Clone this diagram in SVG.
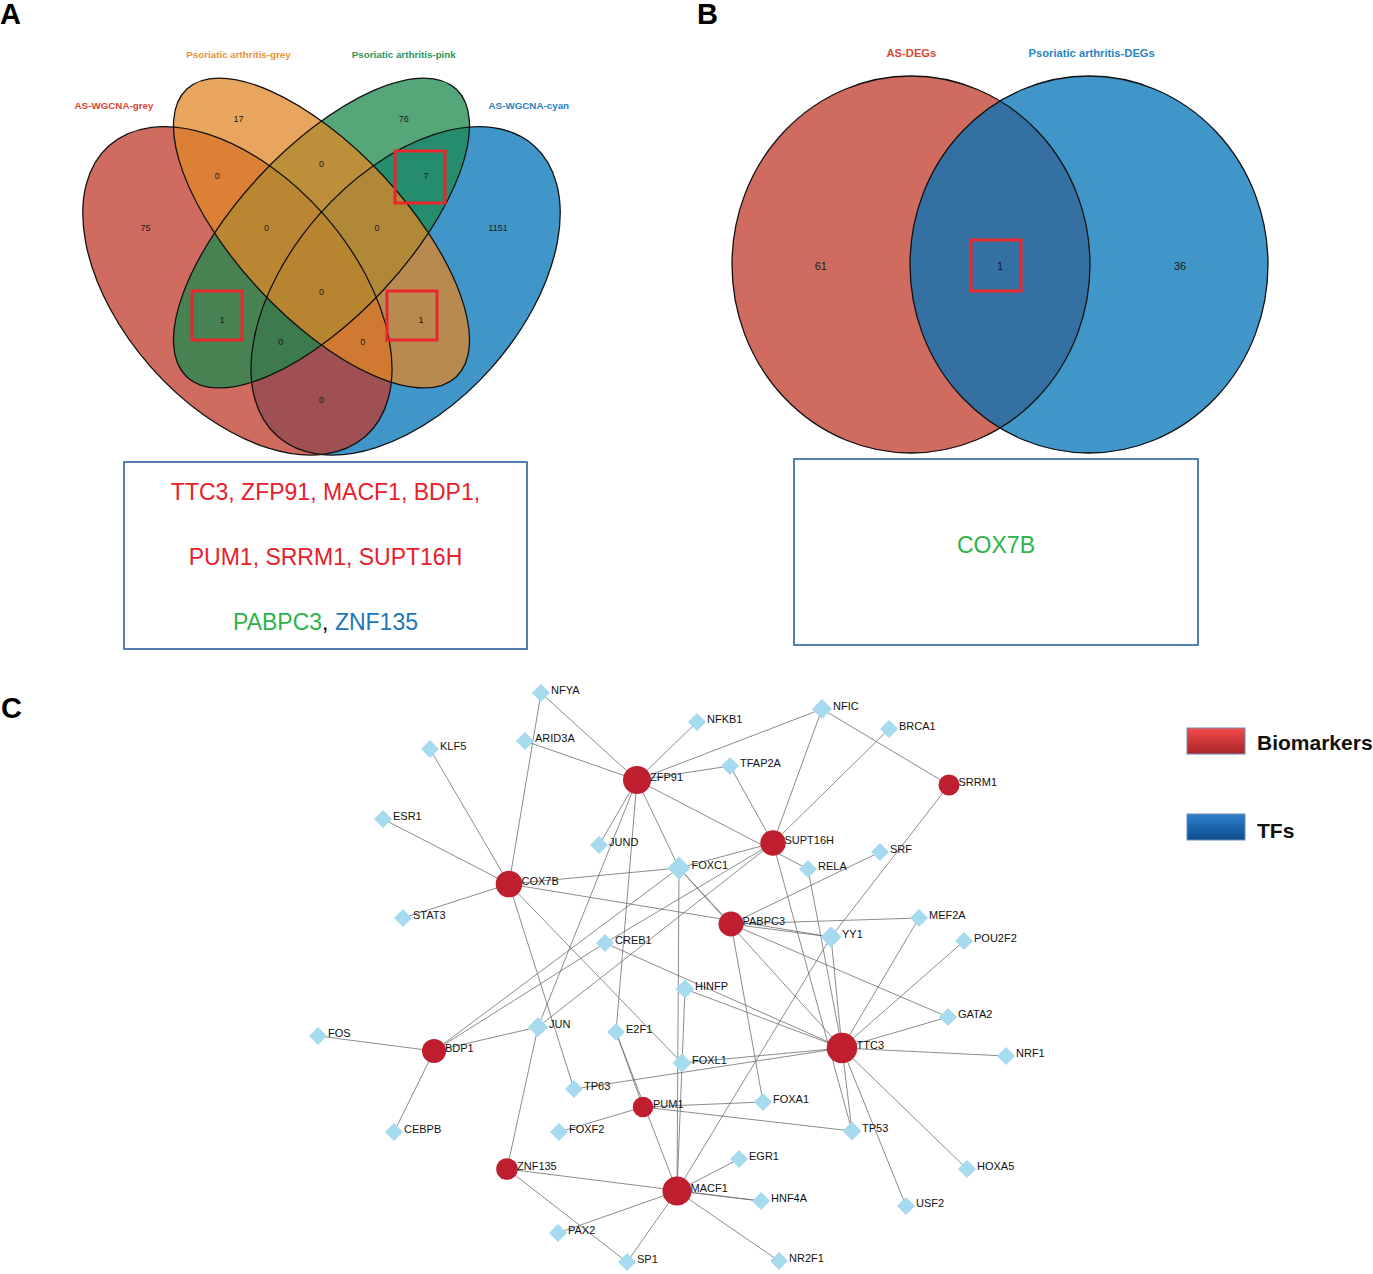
<svg xmlns="http://www.w3.org/2000/svg" width="1373" height="1274" viewBox="0 0 1373 1274">
<defs>
<style>
.pl{font-family:"Liberation Sans",Arial,sans-serif;font-weight:bold;font-size:29px;fill:#000}
.cnt{font-family:"Liberation Sans",Arial,sans-serif;font-size:9px;fill:#1a1a1a;text-anchor:middle}
.cntb{font-family:"Liberation Sans",Arial,sans-serif;font-size:11px;fill:#1a1a1a;text-anchor:middle}
.cat{font-family:"Liberation Sans",Arial,sans-serif;font-weight:bold;font-size:9.8px;text-anchor:middle}
.catb{font-family:"Liberation Sans",Arial,sans-serif;font-weight:bold;font-size:11.2px;text-anchor:middle}
.ol{fill:none;stroke:#111;stroke-width:1.3}
.hl{fill:none;stroke:#E8262B;stroke-width:3}
.box{fill:#fff;stroke:#4472A8;stroke-width:1.8}
.gene{font-family:"Liberation Sans",Arial,sans-serif;font-size:23px;text-anchor:middle}
.e{stroke:#6e6e6e;stroke-width:0.8;fill:none}
.bm{fill:#BE1E2D}
.tf{fill:#A6DBEF}
.lb{font-family:"Liberation Sans",Arial,sans-serif;font-size:11px;fill:#111}
.lg{font-family:"Liberation Sans",Arial,sans-serif;font-weight:bold;font-size:21px;fill:#111}
</style>
<linearGradient id="gr" x1="0" y1="0" x2="0" y2="1"><stop offset="0" stop-color="#F24A4A"/><stop offset="1" stop-color="#A92428"/></linearGradient>
<linearGradient id="gb" x1="0" y1="0" x2="0" y2="1"><stop offset="0" stop-color="#2F7FCC"/><stop offset="1" stop-color="#0C4C8C"/></linearGradient>
</defs>
<rect width="1373" height="1274" fill="#fff"/>

<text class="pl" x="0" y="24">A</text>
<text class="pl" x="697" y="24">B</text>
<text class="pl" x="1" y="718">C</text>

<g id="venn-A">
<g fill-opacity="0.75">
<ellipse cx="0" cy="0" rx="193.8" ry="115.3" fill="#0072B7" transform="translate(405.6,290.9) rotate(-48.6)"/>
<ellipse cx="0" cy="0" rx="193.8" ry="115.3" fill="#BF3A2A" transform="translate(237.4,290.9) rotate(48.6)"/>
<ellipse cx="0" cy="0" rx="197.1" ry="84.1" fill="#1C8A4E" transform="translate(321.5,233) rotate(-46.9)"/>
<ellipse cx="0" cy="0" rx="197.1" ry="84.1" fill="#E08727" transform="translate(321.5,233) rotate(46.9)"/>
</g>
<ellipse class="ol" cx="0" cy="0" rx="193.8" ry="115.3" transform="translate(405.6,290.9) rotate(-48.6)"/>
<ellipse class="ol" cx="0" cy="0" rx="193.8" ry="115.3" transform="translate(237.4,290.9) rotate(48.6)"/>
<ellipse class="ol" cx="0" cy="0" rx="197.1" ry="84.1" transform="translate(321.5,233) rotate(-46.9)"/>
<ellipse class="ol" cx="0" cy="0" rx="197.1" ry="84.1" transform="translate(321.5,233) rotate(46.9)"/>
<text class="cat" x="114" y="108.5" fill="#D5453A">AS-WGCNA-grey</text>
<text class="cat" x="238.5" y="58" fill="#E8943A">Psoriatic arthritis-grey</text>
<text class="cat" x="403.8" y="58" fill="#2A9560">Psoriatic arthritis-pink</text>
<text class="cat" x="528.8" y="108.5" fill="#2A80C0">AS-WGCNA-cyan</text>
<text class="cnt" x="145.4" y="231">75</text>
<text class="cnt" x="238.5" y="121.5">17</text>
<text class="cnt" x="403.8" y="121.5">76</text>
<text class="cnt" x="498" y="231">1151</text>
<text class="cnt" x="217.3" y="179">0</text>
<text class="cnt" x="321.5" y="167.3">0</text>
<text class="cnt" x="426" y="179">7</text>
<text class="cnt" x="266.5" y="231">0</text>
<text class="cnt" x="377" y="231">0</text>
<text class="cnt" x="222.3" y="323.3">1</text>
<text class="cnt" x="321.5" y="295">0</text>
<text class="cnt" x="421" y="323.3">1</text>
<text class="cnt" x="280.8" y="345">0</text>
<text class="cnt" x="362.7" y="345">0</text>
<text class="cnt" x="321.5" y="403.3">0</text>
<rect class="hl" x="395" y="151" width="50" height="52"/>
<rect class="hl" x="192" y="291" width="50" height="49"/>
<rect class="hl" x="387" y="291" width="50" height="49"/>
</g>

<g id="genes-A">
<rect class="box" x="124" y="462" width="403" height="187"/>
<text class="gene" x="325.5" y="500" fill="#E8202A">TTC3, ZFP91, MACF1, BDP1,</text>
<text class="gene" x="325.5" y="565" fill="#E8202A">PUM1, SRRM1, SUPT16H</text>
<text class="gene" x="325.5" y="630"><tspan fill="#2DB34A">PABPC3</tspan><tspan fill="#000">, </tspan><tspan fill="#1C75BC">ZNF135</tspan></text>
</g>

<g id="venn-B">
<g fill-opacity="0.75">
<ellipse cx="911" cy="264.5" rx="179" ry="188.5" fill="#BF3A2A"/>
<ellipse cx="1089" cy="264.5" rx="179" ry="188.5" fill="#0072B7"/>
</g>
<ellipse class="ol" cx="911" cy="264.5" rx="179" ry="188.5"/>
<ellipse class="ol" cx="1089" cy="264.5" rx="179" ry="188.5"/>
<text class="catb" x="911.4" y="56.7" fill="#D04A3A">AS-DEGs</text>
<text class="catb" x="1091.7" y="56.7" fill="#2A85C5">Psoriatic arthritis-DEGs</text>
<text class="cntb" x="820.8" y="269.5">61</text>
<text class="cntb" x="1000" y="269.5">1</text>
<text class="cntb" x="1180" y="269.5">36</text>
<rect class="hl" x="971" y="240" width="50" height="51"/>
</g>

<g id="genes-B">
<rect class="box" x="794" y="459" width="404" height="186"/>
<text class="gene" x="996" y="553" fill="#2DB34A">COX7B</text>
</g>

<g id="connectors">
<line class="e" x1="637" y1="780" x2="541" y2="693"/>
<line class="e" x1="637" y1="780" x2="525" y2="741"/>
<line class="e" x1="637" y1="780" x2="697" y2="722"/>
<line class="e" x1="637" y1="780" x2="822" y2="709"/>
<line class="e" x1="637" y1="780" x2="730" y2="766"/>
<line class="e" x1="637" y1="780" x2="599" y2="845"/>
<line class="e" x1="637" y1="780" x2="679" y2="868"/>
<line class="e" x1="637" y1="780" x2="808" y2="869"/>
<line class="e" x1="637" y1="780" x2="538" y2="1027"/>
<line class="e" x1="637" y1="780" x2="616" y2="1032"/>
<line class="e" x1="509" y1="884" x2="541" y2="693"/>
<line class="e" x1="509" y1="884" x2="430" y2="749"/>
<line class="e" x1="509" y1="884" x2="383" y2="819"/>
<line class="e" x1="509" y1="884" x2="403" y2="918"/>
<line class="e" x1="509" y1="884" x2="679" y2="868"/>
<line class="e" x1="509" y1="884" x2="831" y2="937"/>
<line class="e" x1="509" y1="884" x2="574" y2="1089"/>
<line class="e" x1="509" y1="884" x2="682" y2="1063"/>
<line class="e" x1="773" y1="843" x2="822" y2="709"/>
<line class="e" x1="773" y1="843" x2="730" y2="766"/>
<line class="e" x1="773" y1="843" x2="889" y2="729"/>
<line class="e" x1="773" y1="843" x2="679" y2="868"/>
<line class="e" x1="773" y1="843" x2="538" y2="1027"/>
<line class="e" x1="773" y1="843" x2="605" y2="943"/>
<line class="e" x1="773" y1="843" x2="852" y2="1131"/>
<line class="e" x1="949" y1="785" x2="822" y2="709"/>
<line class="e" x1="949" y1="785" x2="831" y2="937"/>
<line class="e" x1="731" y1="924" x2="679" y2="868"/>
<line class="e" x1="731" y1="924" x2="880" y2="852"/>
<line class="e" x1="731" y1="924" x2="919" y2="918"/>
<line class="e" x1="731" y1="924" x2="831" y2="937"/>
<line class="e" x1="731" y1="924" x2="763" y2="1102"/>
<line class="e" x1="731" y1="924" x2="948" y2="1017"/>
<line class="e" x1="842" y1="1048" x2="679" y2="868"/>
<line class="e" x1="842" y1="1048" x2="605" y2="943"/>
<line class="e" x1="842" y1="1048" x2="685" y2="989"/>
<line class="e" x1="842" y1="1048" x2="682" y2="1063"/>
<line class="e" x1="842" y1="1048" x2="574" y2="1089"/>
<line class="e" x1="842" y1="1048" x2="808" y2="869"/>
<line class="e" x1="842" y1="1048" x2="831" y2="937"/>
<line class="e" x1="842" y1="1048" x2="919" y2="918"/>
<line class="e" x1="842" y1="1048" x2="964" y2="941"/>
<line class="e" x1="842" y1="1048" x2="948" y2="1017"/>
<line class="e" x1="842" y1="1048" x2="1006" y2="1056"/>
<line class="e" x1="842" y1="1048" x2="967" y2="1169"/>
<line class="e" x1="842" y1="1048" x2="906" y2="1206"/>
<line class="e" x1="842" y1="1048" x2="852" y2="1131"/>
<line class="e" x1="434" y1="1051" x2="318" y2="1036"/>
<line class="e" x1="434" y1="1051" x2="394" y2="1132"/>
<line class="e" x1="434" y1="1051" x2="538" y2="1027"/>
<line class="e" x1="434" y1="1051" x2="679" y2="868"/>
<line class="e" x1="434" y1="1051" x2="605" y2="943"/>
<line class="e" x1="643" y1="1107" x2="616" y2="1032"/>
<line class="e" x1="643" y1="1107" x2="763" y2="1102"/>
<line class="e" x1="643" y1="1107" x2="852" y2="1131"/>
<line class="e" x1="643" y1="1107" x2="559" y2="1132"/>
<line class="e" x1="677" y1="1191" x2="679" y2="868"/>
<line class="e" x1="677" y1="1191" x2="685" y2="989"/>
<line class="e" x1="677" y1="1191" x2="831" y2="937"/>
<line class="e" x1="677" y1="1191" x2="616" y2="1032"/>
<line class="e" x1="677" y1="1191" x2="739" y2="1159"/>
<line class="e" x1="677" y1="1191" x2="761" y2="1201"/>
<line class="e" x1="677" y1="1191" x2="779" y2="1261"/>
<line class="e" x1="677" y1="1191" x2="627" y2="1262"/>
<line class="e" x1="677" y1="1191" x2="558" y2="1233"/>
<line class="e" x1="507" y1="1169" x2="538" y2="1027"/>
<line class="e" x1="507" y1="1169" x2="627" y2="1262"/>
<line class="e" x1="507" y1="1169" x2="761" y2="1201"/>
</g>

<g id="tf-nodes">
<g id="n-NFYA"><polygon class="tf" points="541,684 550,693 541,702 532,693"/><text class="lb" x="551" y="694">NFYA</text></g>
<g id="n-ARID3A"><polygon class="tf" points="525,732 534,741 525,750 516,741"/><text class="lb" x="535" y="742">ARID3A</text></g>
<g id="n-KLF5"><polygon class="tf" points="430,740 439,749 430,758 421,749"/><text class="lb" x="440" y="750">KLF5</text></g>
<g id="n-NFKB1"><polygon class="tf" points="697,713 706,722 697,731 688,722"/><text class="lb" x="707" y="723">NFKB1</text></g>
<g id="n-NFIC"><polygon class="tf" points="822,699 832,709 822,719 812,709"/><text class="lb" x="833" y="710">NFIC</text></g>
<g id="n-BRCA1"><polygon class="tf" points="889,720 898,729 889,738 880,729"/><text class="lb" x="899" y="730">BRCA1</text></g>
<g id="n-TFAP2A"><polygon class="tf" points="730,757 739,766 730,775 721,766"/><text class="lb" x="740" y="767">TFAP2A</text></g>
<g id="n-ESR1"><polygon class="tf" points="383,810 392,819 383,828 374,819"/><text class="lb" x="393" y="820">ESR1</text></g>
<g id="n-JUND"><polygon class="tf" points="599,836 608,845 599,854 590,845"/><text class="lb" x="609" y="846">JUND</text></g>
<g id="n-FOXC1"><polygon class="tf" points="679,856.5 690.5,868 679,879.5 667.5,868"/><text class="lb" x="691.5" y="869">FOXC1</text></g>
<g id="n-RELA"><polygon class="tf" points="808,860 817,869 808,878 799,869"/><text class="lb" x="818" y="870">RELA</text></g>
<g id="n-SRF"><polygon class="tf" points="880,843 889,852 880,861 871,852"/><text class="lb" x="890" y="853">SRF</text></g>
<g id="n-STAT3"><polygon class="tf" points="403,909 412,918 403,927 394,918"/><text class="lb" x="413" y="919">STAT3</text></g>
<g id="n-CREB1"><polygon class="tf" points="605,934 614,943 605,952 596,943"/><text class="lb" x="615" y="944">CREB1</text></g>
<g id="n-MEF2A"><polygon class="tf" points="919,909 928,918 919,927 910,918"/><text class="lb" x="929" y="919">MEF2A</text></g>
<g id="n-YY1"><polygon class="tf" points="831,926.5 841.5,937 831,947.5 820.5,937"/><text class="lb" x="842" y="938">YY1</text></g>
<g id="n-POU2F2"><polygon class="tf" points="964,932 973,941 964,950 955,941"/><text class="lb" x="974" y="942">POU2F2</text></g>
<g id="n-HINFP"><polygon class="tf" points="685,979.5 694.5,989 685,998.5 675.5,989"/><text class="lb" x="695" y="990">HINFP</text></g>
<g id="n-GATA2"><polygon class="tf" points="948,1008 957,1017 948,1026 939,1017"/><text class="lb" x="958" y="1018">GATA2</text></g>
<g id="n-JUN"><polygon class="tf" points="538,1017 548,1027 538,1037 528,1027"/><text class="lb" x="549" y="1028">JUN</text></g>
<g id="n-E2F1"><polygon class="tf" points="616,1023 625,1032 616,1041 607,1032"/><text class="lb" x="626" y="1033">E2F1</text></g>
<g id="n-FOS"><polygon class="tf" points="318,1027 327,1036 318,1045 309,1036"/><text class="lb" x="328" y="1037">FOS</text></g>
<g id="n-FOXL1"><polygon class="tf" points="682,1053.5 691.5,1063 682,1072.5 672.5,1063"/><text class="lb" x="692" y="1064">FOXL1</text></g>
<g id="n-NRF1"><polygon class="tf" points="1006,1047 1015,1056 1006,1065 997,1056"/><text class="lb" x="1016" y="1057">NRF1</text></g>
<g id="n-TP63"><polygon class="tf" points="574,1080 583,1089 574,1098 565,1089"/><text class="lb" x="584" y="1090">TP63</text></g>
<g id="n-FOXA1"><polygon class="tf" points="763,1093 772,1102 763,1111 754,1102"/><text class="lb" x="773" y="1103">FOXA1</text></g>
<g id="n-FOXF2"><polygon class="tf" points="559,1123 568,1132 559,1141 550,1132"/><text class="lb" x="569" y="1133">FOXF2</text></g>
<g id="n-TP53"><polygon class="tf" points="852,1121.5 861.5,1131 852,1140.5 842.5,1131"/><text class="lb" x="862" y="1132">TP53</text></g>
<g id="n-CEBPB"><polygon class="tf" points="394,1123 403,1132 394,1141 385,1132"/><text class="lb" x="404" y="1133">CEBPB</text></g>
<g id="n-EGR1"><polygon class="tf" points="739,1150 748,1159 739,1168 730,1159"/><text class="lb" x="749" y="1160">EGR1</text></g>
<g id="n-HOXA5"><polygon class="tf" points="967,1160 976,1169 967,1178 958,1169"/><text class="lb" x="977" y="1170">HOXA5</text></g>
<g id="n-HNF4A"><polygon class="tf" points="761,1192 770,1201 761,1210 752,1201"/><text class="lb" x="771" y="1202">HNF4A</text></g>
<g id="n-USF2"><polygon class="tf" points="906,1197 915,1206 906,1215 897,1206"/><text class="lb" x="916" y="1207">USF2</text></g>
<g id="n-PAX2"><polygon class="tf" points="558,1224 567,1233 558,1242 549,1233"/><text class="lb" x="568" y="1234">PAX2</text></g>
<g id="n-SP1"><polygon class="tf" points="627,1253 636,1262 627,1271 618,1262"/><text class="lb" x="637" y="1263">SP1</text></g>
<g id="n-NR2F1"><polygon class="tf" points="779,1252 788,1261 779,1270 770,1261"/><text class="lb" x="789" y="1262">NR2F1</text></g>
</g>

<g id="biomarker-nodes">
<g id="n-ZFP91"><circle class="bm" cx="637" cy="780" r="14"/><text class="lb" x="650" y="781">ZFP91</text></g>
<g id="n-SUPT16H"><circle class="bm" cx="773" cy="843" r="12.7"/><text class="lb" x="784.5" y="844">SUPT16H</text></g>
<g id="n-SRRM1"><circle class="bm" cx="949" cy="785" r="10.5"/><text class="lb" x="958.5" y="786">SRRM1</text></g>
<g id="n-COX7B"><circle class="bm" cx="509" cy="884" r="13.3"/><text class="lb" x="521.5" y="885">COX7B</text></g>
<g id="n-PABPC3"><circle class="bm" cx="731" cy="924" r="12.5"/><text class="lb" x="742.5" y="925">PABPC3</text></g>
<g id="n-TTC3"><circle class="bm" cx="842" cy="1048" r="15.3"/><text class="lb" x="856.5" y="1049">TTC3</text></g>
<g id="n-BDP1"><circle class="bm" cx="434" cy="1051" r="12"/><text class="lb" x="445" y="1052">BDP1</text></g>
<g id="n-PUM1"><circle class="bm" cx="643" cy="1107" r="10.3"/><text class="lb" x="653" y="1108">PUM1</text></g>
<g id="n-ZNF135"><circle class="bm" cx="507" cy="1169" r="10.8"/><text class="lb" x="517" y="1170">ZNF135</text></g>
<g id="n-MACF1"><circle class="bm" cx="677" cy="1191" r="14.5"/><text class="lb" x="690.5" y="1192">MACF1</text></g>
</g>

<g id="legend">
<rect x="1187" y="728" width="58" height="26" fill="url(#gr)" stroke="#6F8DB5" stroke-width="1"/>
<text class="lg" x="1257" y="750">Biomarkers</text>
<rect x="1187" y="814" width="58" height="26" fill="url(#gb)" stroke="#6F8DB5" stroke-width="1"/>
<text class="lg" x="1257" y="838">TFs</text>
</g>
</svg>
